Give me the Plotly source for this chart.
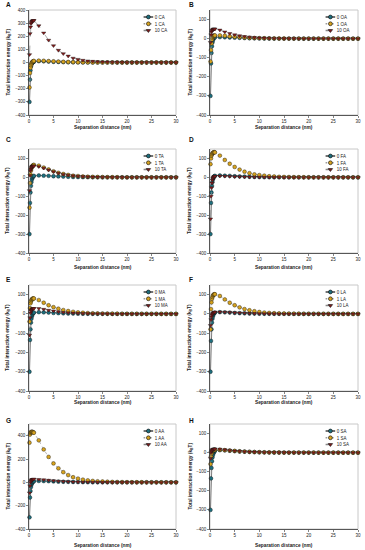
import plotly.graph_objects as go

# ---------------- data ----------------
distance_nm = [0.1, 0.2, 0.3, 0.4, 0.5, 0.6, 0.7, 0.8, 0.9, 1.0,
               2, 3, 4, 5, 6, 7, 8, 9, 10,
               11, 12, 13, 14, 15, 16, 17, 18, 19, 20,
               21, 22, 23, 24, 25, 26, 27, 28, 29, 30]

panel_letters = ["A", "B", "C", "D", "E", "F", "G", "H"]
acid_codes = ["CA", "OA", "TA", "FA", "MA", "LA", "AA", "SA"]
concentrations = ["0", "1", "10"]

# panel A (CA)
ca_0 = [-300, -130, -60, -30, -15, -5, 0, 3, 5, 6,
        10, 9, 7, 5, 4, 3, 2, 1.5, 1,
        0.8, 0.6, 0.5, 0.4, 0.3, 0.2, 0.2, 0.1, 0.1, 0.1,
        0, 0, 0, 0, 0, 0, 0, 0, 0, 0]
ca_1 = [-190, -80, -40, -20, -8, 0, 5, 8, 10, 12,
        14, 13, 11, 9, 7, 5, 4, 3, 2,
        1.5, 1, 0.8, 0.6, 0.4, 0.3, 0.2, 0.2, 0.1, 0.1,
        0, 0, 0, 0, 0, 0, 0, 0, 0, 0]
ca_10 = [60, 220, 270, 295, 305, 312, 316, 318, 320, 320,
         280, 225, 170, 128, 93, 67, 49, 33, 24,
         17, 12, 9, 6.5, 4.5, 3.5, 2.5, 2, 1.5, 1,
         0.8, 0.6, 0.4, 0.3, 0.2, 0.2, 0.1, 0.1, 0.1, 0]
# panel B (OA)
oa_0 = [-300, -130, -75, -40, -20, -8, 0, 4, 6, 7,
        8, 7, 6, 5, 4, 3, 2, 1.5, 1,
        0.8, 0.6, 0.4, 0.3, 0.2, 0.2, 0.1, 0.1, 0, 0,
        0, 0, 0, 0, 0, 0, 0, 0, 0, 0]
oa_1 = [-120, -60, -25, -5, 5, 10, 13, 15, 16, 17,
        17, 15, 12, 10, 8, 6, 4.5, 3.5, 2.5,
        2, 1.5, 1, 0.8, 0.6, 0.4, 0.3, 0.2, 0.2, 0.1,
        0.1, 0, 0, 0, 0, 0, 0, 0, 0, 0]
oa_10 = [-20, 20, 35, 42, 45, 48, 50, 50, 50, 50,
         45, 35, 27, 20, 15, 11, 8, 6, 4,
         3, 2, 1.5, 1, 0.8, 0.6, 0.4, 0.3, 0.2, 0.2,
         0.1, 0.1, 0, 0, 0, 0, 0, 0, 0, 0]
# panel C (TA)
ta_0 = [-300, -135, -80, -45, -25, -10, -2, 3, 6, 8,
        10, 9, 8, 6, 5, 4, 3, 2, 1.5,
        1, 0.8, 0.6, 0.4, 0.3, 0.2, 0.2, 0.1, 0.1, 0,
        0, 0, 0, 0, 0, 0, 0, 0, 0, 0]
ta_1 = [-160, -30, 15, 35, 48, 55, 60, 63, 65, 66,
        62, 52, 42, 32, 24, 18, 13, 9, 7,
        5, 3.5, 2.5, 2, 1.5, 1, 0.8, 0.6, 0.4, 0.3,
        0.2, 0.2, 0.1, 0.1, 0, 0, 0, 0, 0, 0]
ta_10 = [-70, 10, 35, 45, 52, 56, 58, 60, 60, 60,
         57, 49, 39, 30, 22, 16, 12, 8.5, 6,
         4.5, 3, 2.2, 1.6, 1.2, 0.9, 0.6, 0.4, 0.3, 0.2,
         0.2, 0.1, 0.1, 0, 0, 0, 0, 0, 0, 0]
# panel D (FA)
fa_0 = [-300, -135, -80, -45, -25, -10, -2, 3, 6, 8,
        10, 9, 8, 6, 5, 4, 3, 2, 1.5,
        1, 0.8, 0.6, 0.4, 0.3, 0.2, 0.2, 0.1, 0.1, 0,
        0, 0, 0, 0, 0, 0, 0, 0, 0, 0]
fa_1 = [70, 100, 115, 122, 127, 130, 132, 133, 133, 132,
        115, 92, 72, 55, 41, 30, 22, 16, 12,
        9, 6, 4.5, 3, 2.2, 1.6, 1.2, 0.9, 0.6, 0.4,
        0.3, 0.2, 0.2, 0.1, 0.1, 0, 0, 0, 0, 0]
fa_10 = [-220, -100, -55, -30, -15, -5, 0, 3, 5, 6,
         7, 6, 5, 4, 3, 2.5, 2, 1.5, 1,
         0.8, 0.6, 0.4, 0.3, 0.2, 0.2, 0.1, 0.1, 0, 0,
         0, 0, 0, 0, 0, 0, 0, 0, 0, 0]
# panel E (MA)
ma_0 = [-300, -135, -80, -45, -25, -12, -3, 2, 5, 7,
        9, 8, 7, 5, 4, 3, 2, 1.5, 1,
        0.8, 0.6, 0.4, 0.3, 0.2, 0.2, 0.1, 0.1, 0, 0,
        0, 0, 0, 0, 0, 0, 0, 0, 0, 0]
ma_1 = [-40, 30, 55, 65, 72, 76, 78, 80, 80, 80,
        72, 58, 45, 35, 27, 20, 15, 11, 8,
        6, 4.5, 3.2, 2.4, 1.8, 1.3, 1, 0.7, 0.5, 0.4,
        0.3, 0.2, 0.2, 0.1, 0.1, 0, 0, 0, 0, 0]
ma_10 = [-110, -20, 5, 15, 20, 24, 26, 27, 28, 28,
         28, 24, 19, 15, 11, 8, 6, 4.5, 3.3,
         2.4, 1.8, 1.3, 1, 0.7, 0.5, 0.4, 0.3, 0.2, 0.2,
         0.1, 0.1, 0, 0, 0, 0, 0, 0, 0, 0]
# panel F (LA)
la_0 = [-300, -140, -80, -45, -25, -12, -3, 2, 5, 7,
        9, 8, 7, 5, 4, 3, 2, 1.5, 1,
        0.8, 0.6, 0.4, 0.3, 0.2, 0.2, 0.1, 0.1, 0, 0,
        0, 0, 0, 0, 0, 0, 0, 0, 0, 0]
la_1 = [-80, 25, 60, 78, 88, 95, 99, 101, 102, 102,
        93, 75, 58, 45, 34, 25, 19, 14, 10,
        7, 5, 3.7, 2.7, 2, 1.5, 1.1, 0.8, 0.6, 0.4,
        0.3, 0.2, 0.2, 0.1, 0.1, 0, 0, 0, 0, 0]
la_10 = [-60, -30, -15, -5, 0, 3, 5, 7, 8, 9,
         10, 9, 8, 6, 5, 4, 3, 2, 1.5,
         1, 0.8, 0.6, 0.4, 0.3, 0.2, 0.2, 0.1, 0.1, 0,
         0, 0, 0, 0, 0, 0, 0, 0, 0, 0]
# panel G (AA)
aa_0 = [-300, -130, -75, -40, -20, -8, 0, 5, 8, 10,
        12, 11, 10, 8, 6, 5, 4, 3, 2,
        1.5, 1.1, 0.8, 0.6, 0.4, 0.3, 0.2, 0.2, 0.1, 0.1,
        0, 0, 0, 0, 0, 0, 0, 0, 0, 0]
aa_1 = [340, 410, 425, 430, 432, 433, 432, 430, 428, 425,
        360, 282, 218, 162, 120, 87, 62, 44, 32,
        23, 17, 12, 9, 7, 5, 3.5, 2.5, 2, 1.5,
        1, 0.8, 0.6, 0.4, 0.3, 0.2, 0.2, 0.1, 0.1, 0]
aa_10 = [-90, -30, 0, 12, 18, 22, 24, 25, 26, 27,
         25, 22, 18, 14, 10, 7.5, 5.5, 4, 3,
         2.2, 1.6, 1.2, 0.9, 0.6, 0.4, 0.3, 0.2, 0.2, 0.1,
         0.1, 0, 0, 0, 0, 0, 0, 0, 0, 0]
# panel H (SA)
sa_0 = [-300, -135, -80, -45, -25, -12, -3, 3, 7, 10,
        13, 12, 10, 8, 6, 5, 4, 3, 2,
        1.5, 1.1, 0.8, 0.6, 0.4, 0.3, 0.2, 0.2, 0.1, 0.1,
        0, 0, 0, 0, 0, 0, 0, 0, 0, 0]
sa_1 = [-60, -20, -5, 3, 8, 11, 13, 14, 15, 15,
        15, 13, 11, 9, 7, 5.5, 4, 3, 2.3,
        1.7, 1.3, 1, 0.7, 0.5, 0.4, 0.3, 0.2, 0.2, 0.1,
        0.1, 0, 0, 0, 0, 0, 0, 0, 0, 0]
sa_10 = [-30, 0, 8, 12, 15, 17, 18, 19, 19, 19,
         18, 15, 12, 9, 7, 5.5, 4, 3, 2.2,
         1.6, 1.2, 0.9, 0.7, 0.5, 0.4, 0.3, 0.2, 0.1, 0.1,
         0, 0, 0, 0, 0, 0, 0, 0, 0, 0]

panel_series = [
    (ca_0, ca_1, ca_10), (oa_0, oa_1, oa_10), (ta_0, ta_1, ta_10), (fa_0, fa_1, fa_10),
    (ma_0, ma_1, ma_10), (la_0, la_1, la_10), (aa_0, aa_1, aa_10), (sa_0, sa_1, sa_10),
]
y_ranges = [[-400, 400], [-400, 150], [-400, 150], [-400, 150],
            [-400, 150], [-400, 150], [-400, 500], [-400, 150]]
y_dticks = [100, 100, 100, 100, 100, 100, 200, 100]
x_ticks = [0, 5, 10, 15, 20, 25, 30]

# ---------------- style / layout ----------------
W, H = 365, 550
FONT = "Arial, Liberation Sans, sans-serif"
colors = ["#1d6f7e", "#d6a21e", "#851c1c"]
symbols = ["circle", "circle", "triangle-down"]
dashes = ["solid", "dot", "dash"]
linecols = ["#444444", "#999999", "#888888"]

col_px = [(29, 176), (210, 358)]
row_px = [(10, 115), (149, 253), (285, 391), (424, 529)]
xtitle_px = [127, 267, 402, 545]
letter_px = [(4, 5), (187, 5), (4, 140), (187, 140), (4, 279), (187, 279), (4, 420), (187, 420)]
ytitle_x = [8, 190]

def px2x(p):
    return p / W

def px2y(p):
    return 1 - p / H

fig = go.Figure()
layout = dict(
    width=W, height=H,
    margin=dict(l=0, r=0, t=0, b=0, autoexpand=False),
    paper_bgcolor="white", plot_bgcolor="white",
    font=dict(family=FONT, size=5, color="#222222"),
    showlegend=True,
)
annotations = []
shapes = []

for i in range(8):
    r, c = divmod(i, 2)
    n = i + 1
    xa = "xaxis" if n == 1 else f"xaxis{n}"
    ya = "yaxis" if n == 1 else f"yaxis{n}"
    xr = "x" if n == 1 else f"x{n}"
    yr = "y" if n == 1 else f"y{n}"
    lg = "legend" if n == 1 else f"legend{n}"
    x0, x1 = col_px[c]
    t, b = row_px[r]
    layout[xa] = dict(
        domain=[px2x(x0), px2x(x1)], anchor=yr, range=[0, 30],
        tickvals=x_ticks, ticks="outside", ticklen=2, tickwidth=0.6, tickcolor="#333",
        showline=True, linecolor="#333", linewidth=0.8, showgrid=False, zeroline=False,
        tickfont=dict(size=4.5, color="#222"),
    )
    layout[ya] = dict(
        domain=[px2y(b), px2y(t)], anchor=xr, range=y_ranges[i], dtick=y_dticks[i],
        ticks="outside", ticklen=2, tickwidth=0.6, tickcolor="#333",
        showline=True, linecolor="#333", linewidth=0.8, showgrid=False, zeroline=False,
        tickfont=dict(size=4.5, color="#222"),
    )
    shapes.append(dict(type="rect", xref=f"{xr} domain", yref=f"{yr} domain",
                       x0=0, x1=1, y0=0, y1=1, line=dict(color="#c8c8c8", width=1),
                       layer="below"))
    layout[lg] = dict(
        x=px2x(x1 - 34), y=px2y(t + 2), xanchor="left", yanchor="top",
        bgcolor="rgba(0,0,0,0)", borderwidth=0, font=dict(size=14, family=FONT, color="#222"),
        itemsizing="constant", tracegroupgap=0, itemwidth=30,
    )
    for k in range(3):
        fig.add_trace(go.Scatter(
            x=distance_nm, y=panel_series[i][k], xaxis=xr, yaxis=yr,
            mode="lines+markers", name=f"{concentrations[k]} {acid_codes[i]}",
            legend=lg, cliponaxis=False,
            line=dict(color=linecols[k], width=0.7, dash=dashes[k]),
            marker=dict(symbol=symbols[k], size=3.8, color=colors[k],
                        line=dict(color="#111", width=0.4)),
        ))
    # panel letter
    lx, ly = letter_px[i]
    annotations.append(dict(text=f"<b>{panel_letters[i]}</b>", x=px2x(lx), y=px2y(ly),
                            xref="paper", yref="paper", xanchor="left", yanchor="middle",
                            showarrow=False, font=dict(size=6.5, color="#111")))
    # x title
    annotations.append(dict(text="<b>Separation distance (nm)</b>", x=px2x((x0 + x1) / 2),
                            y=px2y(xtitle_px[r]), xref="paper", yref="paper",
                            xanchor="center", yanchor="middle", showarrow=False,
                            font=dict(size=4.8, color="#222")))
    # y title
    annotations.append(dict(text="<b>Total interaction energy (k<sub>B</sub>T)</b>",
                            x=px2x(ytitle_x[c]), y=px2y((t + b) / 2), xref="paper", yref="paper",
                            xanchor="center", yanchor="middle", textangle=-90, showarrow=False,
                            font=dict(size=4.8, color="#222")))

layout["annotations"] = annotations
layout["shapes"] = shapes
fig.update_layout(**layout)

post = """
document.body.style.margin = '0';
document.body.style.padding = '0';
var gd = document.getElementById('{plot_id}');
gd.querySelectorAll('g.infolayer > g').forEach(function(g){
  var c = g.getAttribute('class') || '';
  if (/^legend\\d*$/.test(c)) {
    var t = g.getAttribute('transform') || '';
    if (t.indexOf('scale') < 0) g.setAttribute('transform', t + ' scale(0.32)');
  }
});
"""
fig.write_html("out.html", post_script=post,
               config={"displayModeBar": False, "staticPlot": True})
